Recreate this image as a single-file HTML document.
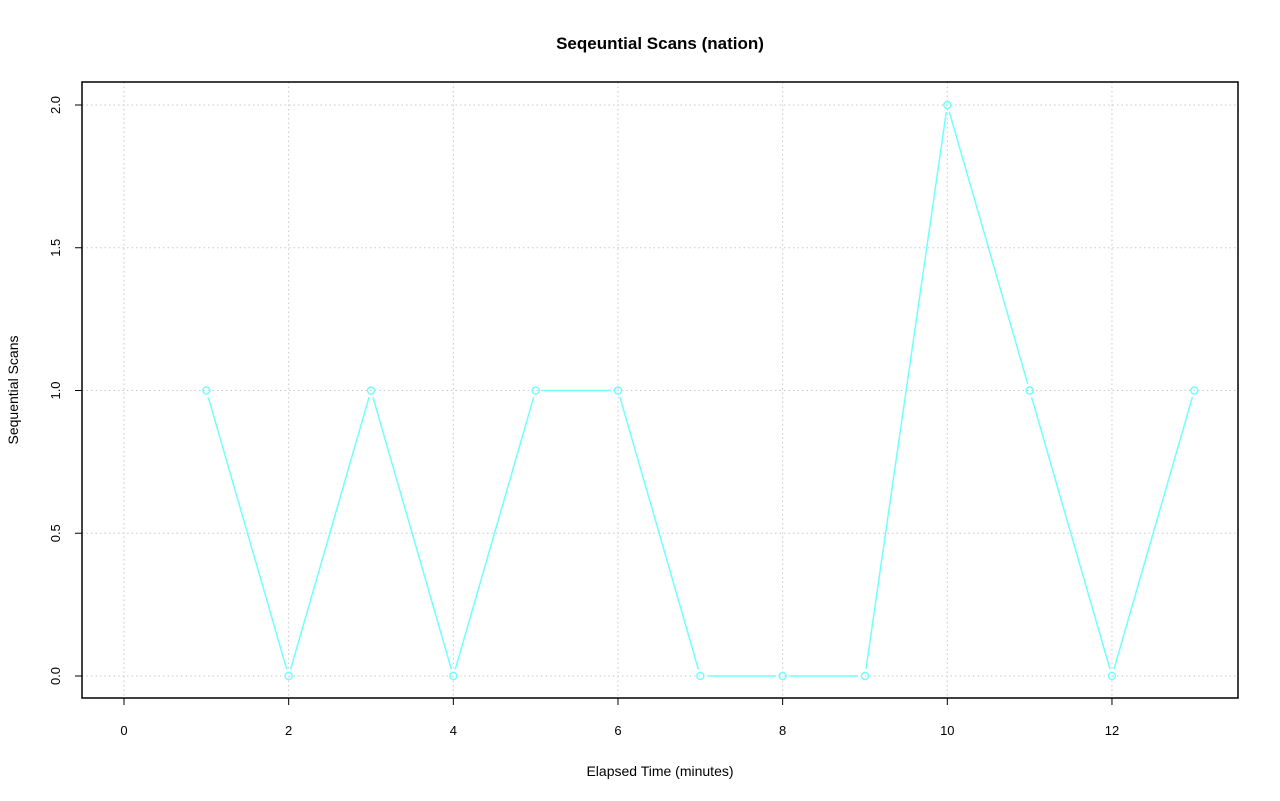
<!DOCTYPE html>
<html><head><meta charset="utf-8"><style>
body{margin:0;background:#fff;}
svg{display:block;font-family:"Liberation Sans",sans-serif;}
</style></head><body>
<svg id="chart" width="1280" height="801" viewBox="0 0 1280 801">
<text x="660" y="49" text-anchor="middle" font-size="17" font-weight="bold">Seqeuntial Scans (nation)</text>
<text x="660" y="776" text-anchor="middle" font-size="14">Elapsed Time (minutes)</text>
<text transform="translate(18,390) rotate(-90)" text-anchor="middle" font-size="14">Sequential Scans</text>
<g id="grid"></g><g id="axes"></g><g id="series"></g>
<rect x="82" y="82" width="1156" height="616" fill="none" stroke="#000" stroke-width="1.5"/>
</svg>
<script>
const xValues=[1,2,3,4,5,6,7,8,9,10,11,12,13];
const yValues=[1,0,1,0,1,1,0,0,0,2,1,0,1];
const xTicks=[0,2,4,6,8,10,12];
const yTicks=[0,0.5,1,1.5,2];
const yTickLabels=["0.0","0.5","1.0","1.5","2.0"];
const NS="http://www.w3.org/2000/svg";
const sx=v=>124+v*82.33, sy=v=>676-v*285.5;
function mk(tag,attrs,parent){const e=document.createElementNS(NS,tag);for(const k in attrs)e.setAttribute(k,attrs[k]);document.getElementById(parent).appendChild(e);return e;}
xTicks.forEach(t=>{
 const g=mk('line',{x1:sx(t),x2:sx(t),y1:82,y2:698,stroke:'#c8c8c8','stroke-dasharray':'1.5,3'},'grid');
 
 
 const tk=mk('line',{x1:sx(t),x2:sx(t),y1:698,y2:705,stroke:'#000'},'axes');
 
 
 const l=mk('text',{x:sx(t),y:735,'text-anchor':'middle','font-size':'13'},'axes');l.textContent=t;
 
 
});
mk('line',{x1:sx(0),x2:sx(12),y1:698,y2:698,stroke:'#000'},'axes');
yTicks.forEach((t,i)=>{
 const g=mk('line',{x1:82,x2:1238,y1:sy(t),y2:sy(t),stroke:'#c8c8c8','stroke-dasharray':'1.5,3'},'grid');
 
 
 const tk=mk('line',{x1:75,x2:82,y1:sy(t),y2:sy(t),stroke:'#000'},'axes');
 
 
 const l=mk('text',{transform:`translate(60,${sy(t)}) rotate(-90)`,'text-anchor':'middle','font-size':'13'},'axes');l.textContent=yTickLabels[i];
 
 
});
const col='#70ffff';
for(let i=0;i<xValues.length-1;i++){
 const x1=sx(xValues[i]),y1=sy(yValues[i]),x2=sx(xValues[i+1]),y2=sy(yValues[i+1]);
 const d=Math.hypot(x2-x1,y2-y1),g=7;
 const s=mk('line',{x1:x1+(x2-x1)*g/d,y1:y1+(y2-y1)*g/d,x2:x2-(x2-x1)*g/d,y2:y2-(y2-y1)*g/d,stroke:col,'stroke-width':1.5},'series');
 
 
}
xValues.forEach((x,i)=>{
 const c=mk('circle',{cx:sx(x),cy:sy(yValues[i]),r:3.5,fill:'none',stroke:col,'stroke-width':1.5},'series');
 
 
});
</script>
</body></html>
